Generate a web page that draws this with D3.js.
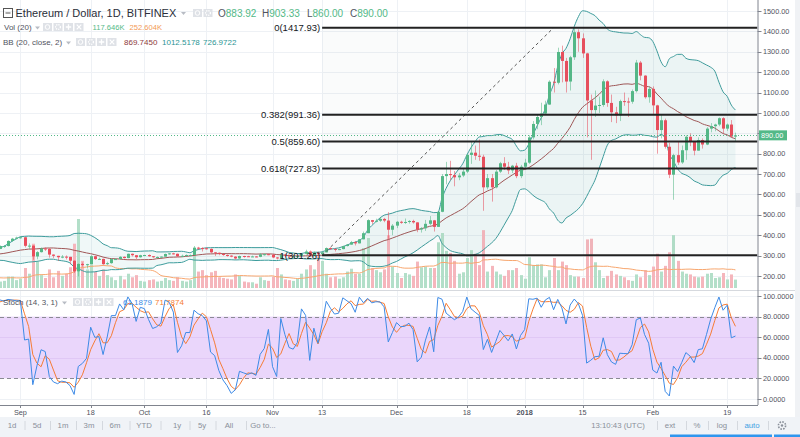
<!DOCTYPE html>
<html><head><meta charset="utf-8">
<script src="https://cdn.jsdelivr.net/npm/d3@7"></script>
<style>
body{margin:0;background:#fff;}
svg{display:block;font-family:"Liberation Sans",Arial,sans-serif;}
</style></head>
<body><svg id="c" width="800" height="437"></svg>
<script>
// ---------- DATA (daily candles from 2017-08-08, first 19 are off-screen history) ----------
const startDate = "2017-08-08";
const opens = [
 296,296,298,296,309,308,297,299,287,301,301,293,294,299,321,314,317,325,330,333,347,347,372,383,
 388,390,348,349,296,317,335,333,305,299,292,295,294,275,223,259,254,258,297,283,284,258,263,283,283,294,288,309,302,292,
 302,303,297,292,293,295,308,311,309,297,299,303,303,339,337,336,333,316,314,308,303,300,295,286,298,297,296,296,294,306,307,
 305,291,287,305,300,296,296,298,309,320,299,314,307,316,337,333,330,332,347,354,366,360,380,410,474,466,471,480,472,427,
 447,466,463,465,470,463,428,434,456,473,441,515,690,700,695,684,693,712,794,805,790,785,635,680,635,712,753,736,718,741,690,
 736,756,880,946,980,997,1041,1153,1148,1299,1255,1154,1273,1396,1366,1292,1061,1014,1036,1039,1155,1049,1003,988,1058,1056,1055,1107,1247,1183,1077,
 1118,1037,916,964,834,697,793,757,817,883,860,815,867,845,923,935,943,974,923,943,883.92];
const highs = [
 309,302,301,313,316,310,301,302,305,312,302,298,301,336,323,326,327,334,335,350,351,375,387,393,
 395,391,360,350,322,340,340,337,306,299,303,301,294,276,262,266,260,302,298,290,285,270,287,287,297,296,310,310,303,304,
 304,306,298,296,296,310,313,314,310,305,306,306,347,343,341,340,335,317,315,309,306,302,297,300,299,299,300,298,312,310,310,
 306,293,310,306,302,302,299,313,329,325,320,319,320,340,340,335,334,348,357,372,372,381,418,478,475,481,490,485,513,455,
 470,471,482,474,476,464,440,475,494,475,517,700,760,765,715,705,725,798,860,840,870,795,700,700,720,760,783,760,745,755,745,
 775,890,960,990,1050,1060,1160,1220,1320,1330,1270,1280,1417.93,1410,1390,1295,1090,1110,1080,1165,1160,1090,1030,1065,1100,1075,1115,1260,1255,1185,1130,
 1130,1040,990,972,853,800,860,840,890,900,862,880,875,930,950,947,978,979,948,965,903.33];
const lows = [
 291,290,292,294,302,295,291,270,284,299,285,285,292,298,285,312,314,323,327,332,338,345,368,380,
 383,340,333,280,282,315,323,290,288,274,287,281,257,215,198,246,237,258,279,279,255,253,260,280,282,286,287,296,283,290,
 297,295,289,290,290,295,304,306,293,295,297,300,302,328,320,330,313,298,302,299,295,292,280,284,290,294,293,292,292,300,302,
 288,281,283,294,295,294,292,296,307,296,299,298,302,316,328,320,327,331,345,353,350,360,380,410,455,463,465,464,380,400,
 435,456,455,457,457,415,413,421,450,418,441,513,650,670,640,670,685,705,750,770,765,520,625,565,630,705,720,700,705,680,680,
 730,750,870,920,940,990,1040,1100,1140,1150,1100,1110,1260,1300,1270,880,770,980,1000,1030,1030,955,950,960,1035,980,1045,1100,1160,1070,1050,
 990,800,875,825,680,574,745,750,770,837,792,815,825,842,905,910,935,900,912,880,860];
const closes = [
 296,298,296,309,308,297,299,287,301,301,293,294,299,321,314,317,325,330,333,347,347,372,383,388,
 390,348,349,296,317,335,333,305,299,292,295,294,275,223,259,254,258,297,283,284,258,263,283,283,294,288,309,302,292,302,
 303,297,292,293,295,308,311,309,297,299,303,303,339,337,336,333,316,314,308,303,300,295,286,298,297,296,296,294,306,307,305,
 291,287,305,300,296,296,298,309,320,299,314,307,316,337,333,330,332,347,354,366,360,380,410,474,466,471,480,472,427,447,
 466,463,465,470,463,428,434,456,473,441,515,690,700,695,684,693,712,794,805,790,785,635,680,635,712,753,736,718,741,690,736,
 756,880,946,980,997,1041,1153,1148,1299,1255,1154,1273,1396,1366,1292,1061,1014,1036,1039,1155,1049,1003,988,1058,1056,1055,1107,1247,1183,1077,1118,
 1037,916,964,834,697,793,757,817,883,860,815,867,845,923,935,943,974,923,943,884,890];
const volumes = [ // thousands
 150,130,120,160,140,130,120,200,150,130,120,100,110,260,220,150,140,130,110,90,100,160,160,110,
 130,280,200,620,370,180,140,260,150,240,170,200,290,620,966,380,260,330,230,170,260,180,150,110,170,120,200,150,180,100,
 90,110,120,90,100,140,110,100,150,100,90,110,560,230,250,180,220,240,150,140,130,120,190,170,90,80,80,60,150,110,100,
 160,280,190,120,110,100,130,200,260,320,260,440,380,200,150,160,130,150,230,270,200,200,560,700,280,250,220,260,740,300,
 210,140,210,190,170,370,290,300,280,280,640,770,520,490,380,200,220,420,530,480,320,810,230,310,230,190,170,250,250,280,180,
 130,430,320,330,330,150,250,420,250,370,320,180,160,160,140,680,690,360,250,140,170,240,190,170,150,110,100,190,150,250,180,
 300,480,230,310,500,740,380,230,200,190,160,150,160,200,210,140,150,210,120,190,117.646];

const priceTicks = [200,300,400,500,600,700,800,900,1000,1100,1200,1300,1400,1500];
const stochTicks = [0,20,40,60,80,100];
const timeTickDates = ["2017-09-01","2017-09-18","2017-10-01","2017-10-16","2017-11-01","2017-11-13","2017-12-01","2017-12-18","2018-01-01","2018-01-15","2018-02-01","2018-02-19"];
const timeTickLabels = ["Sep","18","Oct","16","Nov","13","Dec","18","2018","15","Feb","19"];
const fibLabels = ["0(1417.93)","0.382(991.36)","0.5(859.60)","0.618(727.83)","1(301.26)"];
const fibValues = [1417.93,991.36,859.60,727.83,301.26];
const fibStart = "2017-11-13", fibEnd = "2018-01-08";
const lastPrice = 890.00;
const legendOHLC = [["O","883.92"],["H","903.33"],["L","860.00"],["C","890.00"]];
const legendVol = ["117.646K","252.604K"];
const legendBB = ["869.7450","1012.5178","726.9722"];
const legendStoch = ["61.1879","71.7874"];
const toolbarLeft = ["1d","5d","1m","3m","6m","YTD","1y","5y","All","Go to..."];

// ---------- SETUP ----------
const svg = d3.select("#c");
const parse = d3.utcParse("%Y-%m-%d");
const t0 = parse(startDate);
const n = closes.length;
const dates = d3.range(n).map(i => d3.utcDay.offset(t0, i));
const PR = 757.5, PB = 289.5, ST = 291, SB = 404.5;
const x = d3.scaleUtc().domain([parse("2017-09-01"), parse("2018-02-19")]).range([20.4, 727.2]);
const y = d3.scaleLinear().domain([200, 1500]).range([276, 11]);
const yv = d3.scaleLinear().domain([0, 966]).range([288, 219]);
const ys = d3.scaleLinear().domain([0, 100]).range([399, 296]);
const GREEN = "#53b987", RED = "#eb4d5c";
const first = 19;

// indicators
const bbMid = [], bbUp = [], bbLo = [], volMA = [], kArr = [], dArr = [];
for (let i = 0; i < n; i++) {
  if (i >= 19) {
    const s = closes.slice(i - 19, i + 1), m = d3.mean(s);
    const sd = Math.sqrt(d3.mean(s, v => (v - m) ** 2));
    bbMid[i] = m; bbUp[i] = m + 2 * sd; bbLo[i] = m - 2 * sd;
    volMA[i] = d3.mean(volumes.slice(i - 19, i + 1));
  }
  if (i >= 13) {
    const hh = d3.max(highs.slice(i - 13, i + 1)), ll = d3.min(lows.slice(i - 13, i + 1));
    kArr[i] = 100 * (closes[i] - ll) / (hh - ll);
  }
  if (i >= 15) dArr[i] = (kArr[i] + kArr[i - 1] + kArr[i - 2]) / 3;
}
const vis = d3.range(first, n);
const cx = i => Math.round(x(dates[i]));

const defs = svg.append("defs");
defs.append("clipPath").attr("id", "cp").append("rect").attr("x", 0).attr("y", 0).attr("width", PR).attr("height", PB);
defs.append("clipPath").attr("id", "cs").append("rect").attr("x", 0).attr("y", ST).attr("width", PR).attr("height", SB - ST);

// right strip
svg.append("rect").attr("x", 795).attr("y", 0).attr("width", 5).attr("height", 417).attr("fill", "#f0f2f5");
svg.append("rect").attr("x", 796).attr("y", 193).attr("width", 4).attr("height", 14).attr("fill", "#e2e5ea");

// ---------- PRICE PANE ----------
const gp = svg.append("g").attr("clip-path", "url(#cp)");
gp.selectAll(".hg").data(priceTicks).join("line")
  .attr("x1", 0).attr("x2", PR).attr("y1", d => Math.round(y(d)) + 0.5).attr("y2", d => Math.round(y(d)) + 0.5)
  .attr("stroke", "#eef1f5");
gp.selectAll(".vg").data(timeTickDates).join("line")
  .attr("x1", d => Math.round(x(parse(d))) + 0.5).attr("x2", d => Math.round(x(parse(d))) + 0.5)
  .attr("y1", 0).attr("y2", PB).attr("stroke", "#eef1f5");

// BB fill
gp.append("path").datum(vis)
  .attr("d", d3.area().x(i => x(dates[i])).y0(i => y(bbLo[i])).y1(i => y(bbUp[i])).curve(d3.curveMonotoneX))
  .attr("fill", "rgba(40,150,150,0.07)");

// volume
gp.selectAll(".vb").data(vis).join("rect")
  .attr("x", i => cx(i) - 1).attr("width", 3)
  .attr("y", i => yv(volumes[i])).attr("height", i => 288 - yv(volumes[i]))
  .attr("fill", i => closes[i] >= opens[i] ? "#b3dfc9" : "#f5b6bc");
gp.append("path").datum(vis)
  .attr("d", d3.line().x(i => x(dates[i])).y(i => yv(volMA[i])).curve(d3.curveMonotoneX))
  .attr("fill", "none").attr("stroke", "#f7a66e").attr("stroke-width", 1);

// BB lines
const bbLine = arr => d3.line().x(i => x(dates[i])).y(i => y(arr[i])).curve(d3.curveMonotoneX);
gp.append("path").datum(vis).attr("d", bbLine(bbUp)).attr("fill", "none").attr("stroke", "#3d9c9c").attr("stroke-width", 1);
gp.append("path").datum(vis).attr("d", bbLine(bbLo)).attr("fill", "none").attr("stroke", "#3d9c9c").attr("stroke-width", 1);
gp.append("path").datum(vis).attr("d", bbLine(bbMid)).attr("fill", "none").attr("stroke", "#a05656").attr("stroke-width", 1);

// candles
const cg = gp.append("g");
cg.selectAll(".wk").data(vis).join("line")
  .attr("x1", i => cx(i) + 0.5).attr("x2", i => cx(i) + 0.5)
  .attr("y1", i => y(highs[i])).attr("y2", i => y(lows[i]))
  .attr("stroke", i => closes[i] >= opens[i] ? GREEN : RED).attr("stroke-opacity", 0.55);
cg.selectAll(".bd").data(vis).join("rect")
  .attr("x", i => cx(i) - 1).attr("width", 3)
  .attr("y", i => y(Math.max(opens[i], closes[i])))
  .attr("height", i => Math.max(1, Math.abs(y(opens[i]) - y(closes[i]))))
  .attr("fill", i => closes[i] >= opens[i] ? GREEN : RED);

// current price dotted line
gp.append("line").attr("x1", 0).attr("x2", PR).attr("y1", Math.round(y(lastPrice)) + 0.5).attr("y2", Math.round(y(lastPrice)) + 0.5)
  .attr("stroke", GREEN).attr("stroke-dasharray", "1,2");

// fib
const fx1 = x(parse(fibStart)), fx2 = x(parse(fibEnd));
gp.append("rect").attr("x", fx1).attr("y", y(fibValues[0])).attr("width", PR - fx1).attr("height", y(fibValues[4]) - y(fibValues[0]))
  .attr("fill", "rgba(120,130,150,0.035)");
gp.append("line").attr("x1", fx1).attr("y1", y(fibValues[4])).attr("x2", fx2).attr("y2", y(fibValues[0]))
  .attr("stroke", "#555").attr("stroke-width", 1).attr("stroke-dasharray", "3,3");
gp.selectAll(".fl").data(fibValues).join("line")
  .attr("x1", fx1).attr("x2", PR).attr("y1", d => y(d)).attr("y2", d => y(d))
  .attr("stroke", "#222").attr("stroke-width", 2);
gp.selectAll(".ft").data(fibValues).join("text")
  .attr("x", fx1 - 2).attr("y", d => y(d) + 3.5).attr("text-anchor", "end")
  .attr("font-size", 9.5).attr("fill", "#131722").text((d, k) => fibLabels[k]);

// pane separator
svg.append("line").attr("x1", 0).attr("x2", 795).attr("y1", 290.5).attr("y2", 290.5).attr("stroke", "#d6d9de");

// ---------- STOCH PANE ----------
const gs = svg.append("g").attr("clip-path", "url(#cs)");
gs.selectAll(".vg").data(timeTickDates).join("line")
  .attr("x1", d => Math.round(x(parse(d))) + 0.5).attr("x2", d => Math.round(x(parse(d))) + 0.5)
  .attr("y1", ST).attr("y2", SB).attr("stroke", "#eef1f5");
gs.append("rect").attr("x", 0).attr("width", PR).attr("y", ys(80)).attr("height", ys(20) - ys(80)).attr("fill", "#ead6fb");
gs.selectAll(".hg").data(stochTicks).join("line")
  .attr("x1", 0).attr("x2", PR).attr("y1", d => Math.round(ys(d)) + 0.5).attr("y2", d => Math.round(ys(d)) + 0.5)
  .attr("stroke", d => (d === 80 || d === 20) ? "#8a8a94" : (d > 20 && d < 80 ? "#e0c8f5" : "#eef1f5"))
  .attr("stroke-dasharray", d => (d === 80 || d === 20) ? "4,3" : null);
const visS = vis.filter(i => dArr[i] !== undefined);
gs.append("path").datum(visS)
  .attr("d", d3.line().x(i => x(dates[i])).y(i => ys(dArr[i])))
  .attr("fill", "none").attr("stroke", "#f57c35").attr("stroke-width", 1);
gs.append("path").datum(visS)
  .attr("d", d3.line().x(i => x(dates[i])).y(i => ys(kArr[i])))
  .attr("fill", "none").attr("stroke", "#3d8ae6").attr("stroke-width", 1);

// ---------- AXES ----------
svg.append("line").attr("x1", PR + 0.5).attr("x2", PR + 0.5).attr("y1", 0).attr("y2", 405).attr("stroke", "#80848e");
const ya = svg.append("g");
ya.selectAll("line").data(priceTicks).join("line")
  .attr("x1", PR).attr("x2", PR + 4).attr("y1", d => Math.round(y(d)) + 0.5).attr("y2", d => Math.round(y(d)) + 0.5).attr("stroke", "#80848e");
// labels hidden where the last-price tag covers them (as in the reference)
ya.selectAll("text").data(priceTicks.filter(d => Math.abs(y(d) - y(lastPrice)) > 9)).join("text")
  .attr("x", 763).attr("y", d => y(d) + 2.6).attr("font-size", 7.3).attr("fill", "#50535e").text(d => d.toFixed(2));
const sa = svg.append("g");
sa.selectAll("line").data(stochTicks).join("line")
  .attr("x1", PR).attr("x2", PR + 4).attr("y1", d => Math.round(ys(d)) + 0.5).attr("y2", d => Math.round(ys(d)) + 0.5).attr("stroke", "#80848e");
sa.selectAll("text").data(stochTicks).join("text")
  .attr("x", 763).attr("y", d => ys(d) + 2.6).attr("font-size", 7.3).attr("fill", "#50535e").text(d => d.toFixed(4));
// last price label
svg.append("rect").attr("x", 759).attr("y", y(lastPrice) - 5).attr("width", 28).attr("height", 10).attr("fill", GREEN);
svg.append("text").attr("x", 761).attr("y", y(lastPrice) + 2.6).attr("font-size", 7.3).attr("fill", "#fff").text(lastPrice.toFixed(2));

// time axis
svg.append("line").attr("x1", 0).attr("x2", PR + 0.5).attr("y1", 405.5).attr("y2", 405.5).attr("stroke", "#80848e");
const ta = svg.append("g");
ta.selectAll("line").data(timeTickDates).join("line")
  .attr("x1", d => Math.round(x(parse(d))) + 0.5).attr("x2", d => Math.round(x(parse(d))) + 0.5)
  .attr("y1", 405).attr("y2", 408).attr("stroke", "#80848e");
ta.selectAll("text").data(timeTickDates).join("text")
  .attr("x", d => x(parse(d))).attr("y", 414.5).attr("text-anchor", "middle").attr("font-size", 7.3)
  .attr("font-weight", (d, k) => timeTickLabels[k] === "2018" ? "bold" : null)
  .attr("fill", "#50535e").text((d, k) => timeTickLabels[k]);

// bottom toolbar
svg.append("rect").attr("x", 0).attr("y", 417).attr("width", 800).attr("height", 20).attr("fill", "#f0f3f7");
const tbX = [12, 37, 63, 89, 115, 144, 177, 202, 229, 263];
const tb = svg.append("g").attr("font-size", 7.8).attr("fill", "#8a909a");
toolbarLeft.forEach((s, k) => {
  tb.append("text").attr("x", tbX[k]).attr("y", 428).attr("text-anchor", "middle").text(s);
  if (k < toolbarLeft.length - 1) tb.append("line").attr("x1", (tbX[k] + tbX[k + 1]) / 2 + 0.5).attr("x2", (tbX[k] + tbX[k + 1]) / 2 + 0.5)
    .attr("y1", 421).attr("y2", 430).attr("stroke", "#d4d8de");
});
const rt = [["13:10:43 (UTC)", 618], ["ext", 670], ["%", 697], ["log", 722], ["auto", 752]];
rt.forEach(([s, px]) => tb.append("text").attr("x", px).attr("y", 428).attr("text-anchor", "middle")
  .attr("fill", s === "auto" ? "#3fa2e3" : "#8a909a").text(s));
[657, 686, 708, 737, 768].forEach(px => tb.append("line").attr("x1", px + 0.5).attr("x2", px + 0.5).attr("y1", 421).attr("y2", 430).attr("stroke", "#d4d8de"));
const gear = svg.append("g").attr("transform", "translate(782,425.5)");
gear.append("circle").attr("r", 3.6).attr("fill", "none").attr("stroke", "#8a909a").attr("stroke-width", 1.6).attr("stroke-dasharray", "1.6,1.2");
gear.append("circle").attr("r", 1.2).attr("fill", "#8a909a");
svg.append("rect").attr("x", 670).attr("y", 434.5).attr("width", 102).attr("height", 3).attr("fill", "#2f96ee");
svg.append("rect").attr("x", 774).attr("y", 434.5).attr("width", 26).attr("height", 3).attr("fill", "#2f96ee");

// ---------- LEGENDS ----------
const lg = svg.append("g");
function icons(x0, y0, kinds) {
  kinds.forEach((k, j) => {
    const bx = x0 + j * 10.5;
    lg.append("rect").attr("x", bx).attr("y", y0).attr("width", 9).attr("height", 8).attr("fill", "#dfe2e7");
    const c = "#fff";
    if (k === "eye") { lg.append("circle").attr("cx", bx + 4.5).attr("cy", y0 + 4).attr("r", 2.3).attr("fill", "none").attr("stroke", c); }
    if (k === "gear") { lg.append("circle").attr("cx", bx + 4.5).attr("cy", y0 + 4).attr("r", 2.4).attr("fill", "none").attr("stroke", c).attr("stroke-width", 1.3).attr("stroke-dasharray", "1.2,0.9"); }
    if (k === "plus") { lg.append("path").attr("d", `M${bx + 1.8},${y0 + 4}h5.4M${bx + 4.5},${y0 + 1.3}v5.4`).attr("stroke", c).attr("stroke-width", 1.3); }
    if (k === "x") { lg.append("path").attr("d", `M${bx + 2.2},${y0 + 1.7}l4.6,4.6M${bx + 6.8},${y0 + 1.7}l-4.6,4.6`).attr("stroke", c).attr("stroke-width", 1.2); }
  });
}
function caret(x0, y0) { lg.append("path").attr("d", `M${x0},${y0}h5l-2.5,3z`).attr("fill", "#b8bcc4"); }
lg.append("rect").attr("x", 3.5).attr("y", 8.5).attr("width", 9).attr("height", 9).attr("fill", "none").attr("stroke", "#555");
lg.append("line").attr("x1", 5.5).attr("x2", 10.5).attr("y1", 13).attr("y2", 13).attr("stroke", "#555");
lg.append("text").attr("x", 15.5).attr("y", 17).attr("font-size", 11).attr("fill", "#2a2e39").text("Ethereum / Dollar, 1D, BITFINEX");
caret(181, 12);
icons(193, 9, ["eye", "gear"]);
const ohlcX = [218, 262, 307, 350];
legendOHLC.forEach(([l, v], k) => {
  const t = lg.append("text").attr("x", ohlcX[k]).attr("y", 17).attr("font-size", 10);
  t.append("tspan").attr("fill", "#50535e").text(l);
  t.append("tspan").attr("fill", GREEN).text(v);
});
lg.append("text").attr("x", 4).attr("y", 30).attr("font-size", 8).attr("fill", "#50535e").text("Vol (20)");
caret(35, 26.5);
icons(43, 23, ["eye", "gear", "plus", "x"]);
lg.append("text").attr("x", 92.5).attr("y", 30).attr("font-size", 7.6).attr("fill", GREEN).text(legendVol[0]);
lg.append("text").attr("x", 129.5).attr("y", 30).attr("font-size", 7.6).attr("fill", "#f39a55").text(legendVol[1]);
lg.append("text").attr("x", 3).attr("y", 45).attr("font-size", 8).attr("fill", "#50535e").text("BB (20, close, 2)");
caret(66, 41.5);
icons(76, 38, ["eye", "gear", "plus", "x"]);
lg.append("text").attr("x", 124).attr("y", 45).attr("font-size", 8).attr("fill", "#8e3b3b").text(legendBB[0]);
lg.append("text").attr("x", 162).attr("y", 45).attr("font-size", 8).attr("fill", "#2b9595").text(legendBB[1]);
lg.append("text").attr("x", 203).attr("y", 45).attr("font-size", 8).attr("fill", "#2b9595").text(legendBB[2]);
lg.append("text").attr("x", 3).attr("y", 305).attr("font-size", 8).attr("fill", "#50535e").text("Stoch (14, 3, 1)");
caret(62, 301.5);
icons(73, 298, ["eye", "gear", "plus", "x"]);
lg.append("text").attr("x", 123).attr("y", 305).attr("font-size", 8).attr("fill", "#3d8ae6").text(legendStoch[0]);
lg.append("text").attr("x", 155).attr("y", 305).attr("font-size", 8).attr("fill", "#f57c35").text(legendStoch[1]);
</script></body></html>
